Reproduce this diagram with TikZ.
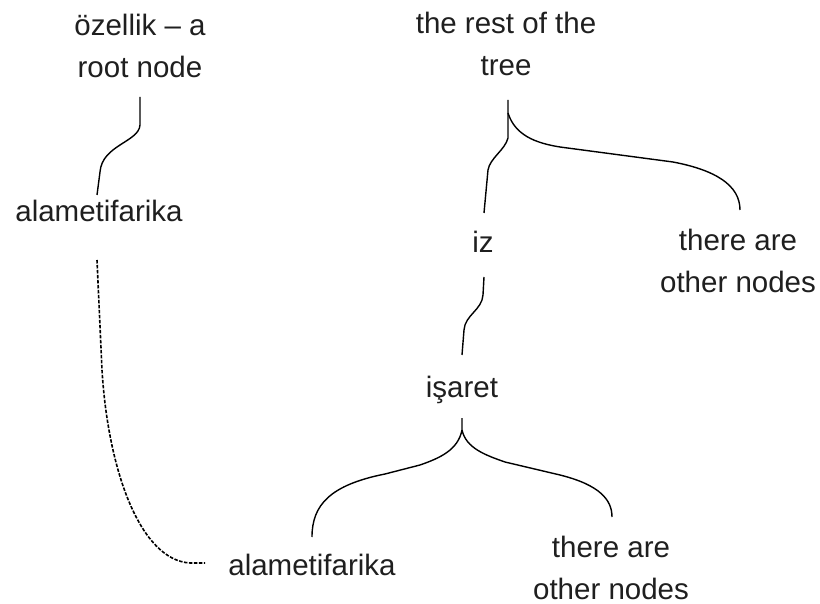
\documentclass[tikz,border=0pt]{standalone}
\usepackage{fontspec}
\setmainfont{Liberation Sans}
\begin{document}
\begin{tikzpicture}[x=1pt,y=-1pt,
  lbl/.style={inner sep=0pt, anchor=base, align=center, text=black!88,
    font=\fontsize{29.5}{42}\selectfont},
  edge/.style={line width=1.4pt, line join=round},
  dashededge/.style={line width=1.6pt, dash pattern=on 3.5pt off 1.5pt}]
\useasboundingbox[fill=white] (0,0) rectangle (820,604);
% nodes (base = last-line baseline)
\node[lbl] (root) at (140,78) {özellik – a\\root node};
\node[lbl] (rest) at (506,76) {the rest of the\\tree};
\node[lbl] (alam1) at (99,222) {alametifarika};
\node[lbl] (iz) at (483,253) {iz};
\node[lbl] (other1) at (738,293) {there are\\other nodes};
\node[lbl] (isaret) at (462,397) {işaret};
\node[lbl] (alam2) at (312,575) {alametifarika};
\node[lbl] (other2) at (611,599) {there are\\other nodes};
% connector ends
\coordinate (rootS) at (140,97);
\coordinate (alam1N) at (97,195);
\coordinate (alam1S) at (97,260);
\coordinate (alam2W) at (205,563);
\coordinate (restS) at (508,100);
\coordinate (izN) at (484,213);
\coordinate (other1N) at (740,210);
\coordinate (izS) at (484,277);
\coordinate (isaretN) at (462,355);
\coordinate (isaretS) at (462,418);
\coordinate (alam2N) at (312,537);
\coordinate (other2N) at (612,517);
% connectors
\draw[edge] (rootS) -- ++(0,28) .. controls +(-1,17) and (102,145) .. (100,172) -- (alam1N);
\draw[dashededge] (alam1S) -- (102,370) .. controls (108,470) and (140,560) .. (190,563) -- (alam2W);
\draw[edge] (restS) -- ++(0,38) .. controls +(-3,12) and (490,158) .. (488,170) -- (izN);
\draw[edge] (508,113) .. controls (515,135) and (535,143) .. (560,147) -- (673,162) .. controls (715,170) and (740,185) .. (other1N);
\draw[edge] (izS) -- ++(-1,18) .. controls +(-1,15) and (465,315) .. (464,330) -- (isaretN);
\draw[edge] (isaretS) -- ++(0,12) .. controls +(-4,20) and (440,458) .. (420,465) -- (385,474) .. controls (330,485) and (312,505) .. (alam2N);
\draw[edge] (462,430) .. controls (466,448) and (485,455) .. (505,462) -- (560,475) .. controls (600,485) and (612,500) .. (other2N);
\end{tikzpicture}
\end{document}
